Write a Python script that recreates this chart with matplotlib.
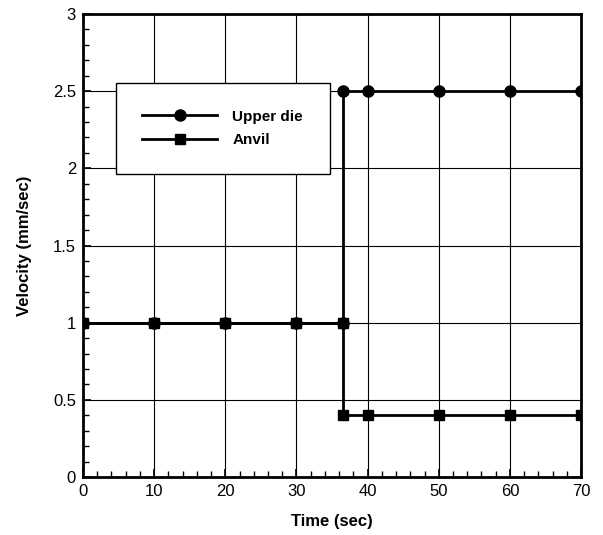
import matplotlib.pyplot as plt
from matplotlib.ticker import MultipleLocator

plt.rcParams['font.family'] = ['Liberation Sans', 'DejaVu Sans']

# Data
time_upper = [0, 10, 20, 30, 36.5, 36.5, 40, 50, 60, 70]
vel_upper = [1, 1, 1, 1, 1, 2.5, 2.5, 2.5, 2.5, 2.5]
time_anvil = [0, 10, 20, 30, 36.5, 36.5, 40, 50, 60, 70]
vel_anvil = [1, 1, 1, 1, 1, 0.4, 0.4, 0.4, 0.4, 0.4]

fig = plt.figure(figsize=(6.03, 5.35), dpi=100)
ax = fig.add_axes([0.1376, 0.1084, 0.826, 0.8654])

ax.plot(time_upper, vel_upper, color='k', lw=2, marker='o', ms=8, label='Upper die', zorder=3)
ax.plot(time_anvil, vel_anvil, color='k', lw=2, marker='s', ms=7, label='Anvil', zorder=4)

ax.set_xlim(0, 70)
ax.set_ylim(0, 3)
ax.xaxis.set_major_locator(MultipleLocator(10))
ax.xaxis.set_minor_locator(MultipleLocator(2))
ax.yaxis.set_minor_locator(MultipleLocator(0.1))
ax.set_yticks([0, 0.5, 1, 1.5, 2, 2.5, 3])
ax.set_yticklabels(['0', '0.5', '1', '1.5', '2', '2.5', '3'])
ax.tick_params(which='both', direction='in', top=False, right=False, labelsize=12)
ax.tick_params(which='major', length=6, width=1.2, pad=5)
ax.tick_params(which='minor', length=4, width=1)
ax.grid(True, which='major', color='k', lw=0.8)
for s in ax.spines.values():
    s.set_linewidth(2)

ax.set_xlabel('Time (sec)', fontsize=12, fontweight='bold', labelpad=11)
ax.set_ylabel('Velocity (mm/sec)', fontsize=12, fontweight='bold', labelpad=15)

leg = ax.legend(loc='upper left', bbox_to_anchor=(0.05, 0.868), handlelength=4.9,
                handletextpad=1.0, numpoints=1, fancybox=False, edgecolor='k',
                framealpha=1, borderpad=1.75, labelspacing=0.65,
                prop={'weight': 'bold', 'size': 11})
leg.get_frame().set_linewidth(1)

fig.savefig('out.png', dpi=100)
